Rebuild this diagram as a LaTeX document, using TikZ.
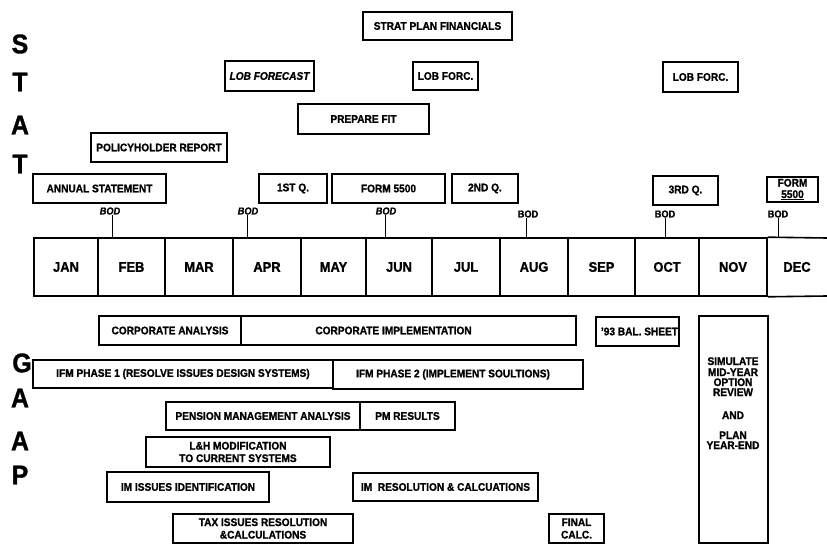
\documentclass[tikz,border=0pt]{standalone}
\usepackage{fontspec}
\setmainfont[FakeStretch=0.92, BoldFeatures={FakeBold=1.2}, BoldItalicFeatures={FakeBold=1.2}]{Liberation Sans}
\newcommand\tbox[7][tb]{%
  \node[#1, minimum width={#5-#3}, minimum height={#6-#4}] (#2) at ({(#3+#5)/2},{(#4+#6)/2}) {};
  \node[tt] (#2-t) at (#2.center) {#7};}
\newcommand\monthbox[6][mon]{%
  \node[#1, minimum width={#4-#3}, minimum height={296-238}] (#2) at ({(#3+#4)/2},267) {#5#6};}
\begin{document}
\begin{tikzpicture}[x=1pt,y=-1pt,
  tb/.style={draw, line width=1.1pt, inner sep=0pt, rectangle},
  tt/.style={font=\fontsize{11}{12.5}\selectfont\bfseries, align=center, inner sep=0pt},
  mon/.style={draw, line width=1.6pt, inner sep=0pt, rectangle, font=\fontsize{14}{14}\selectfont\bfseries},
  monopen/.style={inner sep=0pt, rectangle, font=\fontsize{14}{14}\selectfont\bfseries},
  barline/.style={line width=1.6pt},
  bod/.style={font=\fontsize{10}{10}\selectfont\bfseries, inner sep=0.5pt},
  tick/.style={line width=1pt},
  big/.style={font=\fontsize{27}{27}\selectfont\bfseries, inner sep=0pt},
  simt/.style={font=\fontsize{11}{12}\selectfont\bfseries, inner sep=0pt, anchor=base}]
\fill[white] (0,0) rectangle (827,545);
\useasboundingbox (0,0) rectangle (827,545);

% side letters
\node[big] (s-S) at (20,44) {S};
\node[big] (s-T1) at (20,82) {T};
\node[big] (s-A) at (20,125) {A};
\node[big] (s-T2) at (20,164) {T};
\node[big] (g-G) at (22,363) {G};
\node[big] (g-A1) at (20,398) {A};
\node[big] (g-A2) at (20,441) {A};
\node[big] (g-P) at (20,475) {P};

% STAT boxes
\tbox{strat}{363}{12}{512}{40}{STRAT PLAN FINANCIALS}
\tbox{lobf}{225}{61}{314}{91}{\itshape LOB FORECAST}
\tbox{lobf2}{413}{62}{478}{90}{LOB FORC.}
\tbox{lobf3}{663}{62}{738}{92}{LOB FORC.}
\tbox{prepfit}{298}{104}{429}{134}{PREPARE FIT}
\tbox{policy}{91}{133}{227}{162}{POLICYHOLDER REPORT}
\tbox{annual}{33}{174}{166}{203}{ANNUAL STATEMENT}
\tbox{q1}{259}{174}{327}{203}{1ST Q.}
\tbox{form1}{332}{174}{445}{203}{FORM 5500}
\tbox{q2}{452}{174}{518}{203}{2ND Q.}
\tbox{q3}{653}{176}{718}{205}{3RD Q.}
\tbox{form2}{767}{177}{818}{202}{FORM\\[-1pt]\underline{5500}}

% month bar
\monthbox{jan}{34}{98}{JAN}{}
\monthbox{feb}{98}{165}{FEB}{}
\monthbox{mar}{165}{233}{MAR}{}
\monthbox{apr}{233}{301}{APR}{}
\monthbox{may}{301}{366}{MAY}{}
\monthbox{jun}{366}{432}{JUN}{}
\monthbox{jul}{432}{500}{JUL}{}
\monthbox{aug}{500}{568}{AUG}{}
\monthbox{sep}{568}{635}{SEP}{}
\monthbox{oct}{635}{699}{OCT}{}
\monthbox{nov}{699}{767}{NOV}{}
\monthbox[monopen]{dec}{767}{827}{DEC}{}
\coordinate (barend-t) at (827,238);
\coordinate (barend-b) at (827,296);
\draw[barline] (nov.north east) -- (barend-t);
\draw[barline] (nov.south east) -- (barend-b);

% BOD markers
\node[bod] (bod1) at (110,211) {\itshape BOD};
\node[bod] (bod2) at (248,211) {\itshape BOD};
\node[bod] (bod3) at (386,211) {\itshape BOD};
\node[bod] (bod4) at (528,214) {BOD};
\node[bod] (bod5) at (665,214) {BOD};
\node[bod] (bod6) at (778,214) {BOD};
\coordinate (t1) at (112,238);
\coordinate (t2) at (247,238);
\coordinate (t3) at (385,238);
\coordinate (t4) at (526,238);
\coordinate (t5) at (665,238);
\coordinate (t6) at (778,238);
\foreach \i in {1,...,6}{\draw[tick] (t\i |- bod\i.south) -- (t\i);}

% GAAP boxes
\tbox{corpa}{99}{316}{241}{345}{CORPORATE ANALYSIS}
\tbox{corpi}{241}{316}{576}{345}{CORPORATE IMPLEMENTATION\hspace*{30pt}}
\tbox{bal}{596}{317}{679}{346}{\hspace*{4pt}'93 BAL. SHEET}
\tbox{ifm1}{33}{360}{333}{388}{IFM PHASE 1 (RESOLVE ISSUES DESIGN SYSTEMS)}
\tbox{ifm2}{333}{360}{583}{389}{IFM PHASE 2 (IMPLEMENT SOULTIONS)\hspace*{10pt}}
\tbox{pma}{166}{402}{360}{430}{PENSION MANAGEMENT ANALYSIS}
\tbox{pmr}{360}{402}{455}{430}{PM RESULTS}
\tbox{lh}{146}{437}{330}{467}{L\&H MODIFICATION\\TO CURRENT SYSTEMS}
\tbox{imid}{107}{472}{269}{502}{IM ISSUES IDENTIFICATION}
\tbox{imres}{353}{473}{538}{501}{IM\ \ RESOLUTION \& CALCUATIONS}
\tbox{tax}{173}{514}{353}{543}{TAX ISSUES RESOLUTION\\\&CALCULATIONS}
\tbox{final}{549}{514}{604}{543}{FINAL\\CALC.}

% simulate box
\node[tb, minimum width=69, minimum height=227] (sim) at (733.5,429.5) {};
\node[simt] (sim1) at (733,365) {SIMULATE};
\node[simt] (sim2) at (733,376) {MID-YEAR};
\node[simt] (sim3) at (733,386) {OPTION};
\node[simt] (sim4) at (733,396) {REVIEW};
\node[simt] (sim5) at (733,419) {AND};
\node[simt] (sim6) at (733,439) {PLAN};
\node[simt] (sim7) at (733,449) {YEAR-END};
\end{tikzpicture}
\end{document}
